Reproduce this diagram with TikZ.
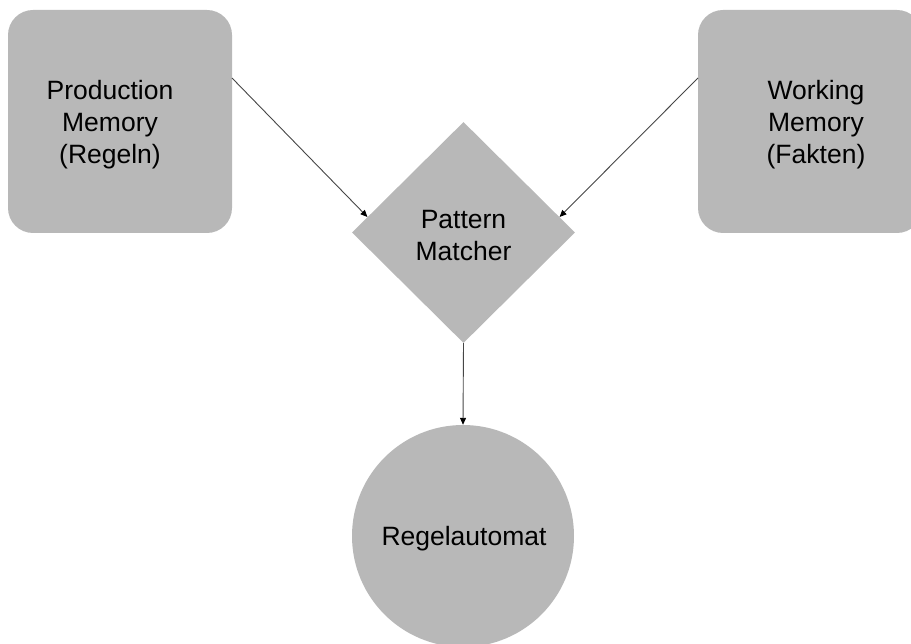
\documentclass[tikz,border=0pt]{standalone}
\usepackage{fontspec}
\setmainfont{Liberation Sans}
\usetikzlibrary{shapes.geometric,arrows.meta,calc}
\definecolor{shapegray}{RGB}{184,184,184}
\definecolor{linegray}{RGB}{70,70,70}
\begin{document}
\begin{tikzpicture}[x=1pt,y=-1pt,
  every node/.style={font=\fontsize{26.5}{32}\selectfont, text=black},
  memorybox/.style={fill=shapegray, draw=none, rounded corners=25pt,
    minimum width=224pt, minimum height=223pt, inner sep=0pt},
  matcherdiamond/.style={diamond, fill=shapegray, draw=none, aspect=1,
    minimum width=223pt, minimum height=221pt, inner sep=0pt, align=center},
  automatcircle/.style={circle, fill=shapegray, draw=none,
    minimum size=222pt, inner sep=0pt},
  textlabel/.style={align=center, inner sep=0pt},
  conn/.style={draw=linegray, line width=0.9pt,
    -{Triangle[length=7pt,width=6pt,fill=black,color=black]}}]
\useasboundingbox (0,0) rectangle (911,644);
\clip (0,0) rectangle (911,644);
\node[memorybox] (pm) at (120,121.5) {};
\node[textlabel] (pmtext) at (110,125) {Production\\Memory\\(Regeln)};
\node[memorybox] (wm) at (810,121.5) {};
\node[textlabel] (wmtext) at (816,125) {Working\\Memory\\(Fakten)};
\node[matcherdiamond] (pmat) at (463.5,232.5) {};
\node[textlabel] (pmattext) at (463.5,236) {Pattern\\Matcher};
\node[automatcircle] (ra) at (463,536) {};
\node[textlabel] (ratext) at (464,538.5) {Regelautomat};
\coordinate (s1) at (232,78);
\coordinate (s2) at (698,78);
\draw[conn] (s1) -- ($(pmat.west)!0.14!(pmat.north)$);
\draw[conn] (s2) -- ($(pmat.east)!0.14!(pmat.north)$);
\draw[conn] (pmat.south) -- (ra.north);
\end{tikzpicture}
\end{document}
